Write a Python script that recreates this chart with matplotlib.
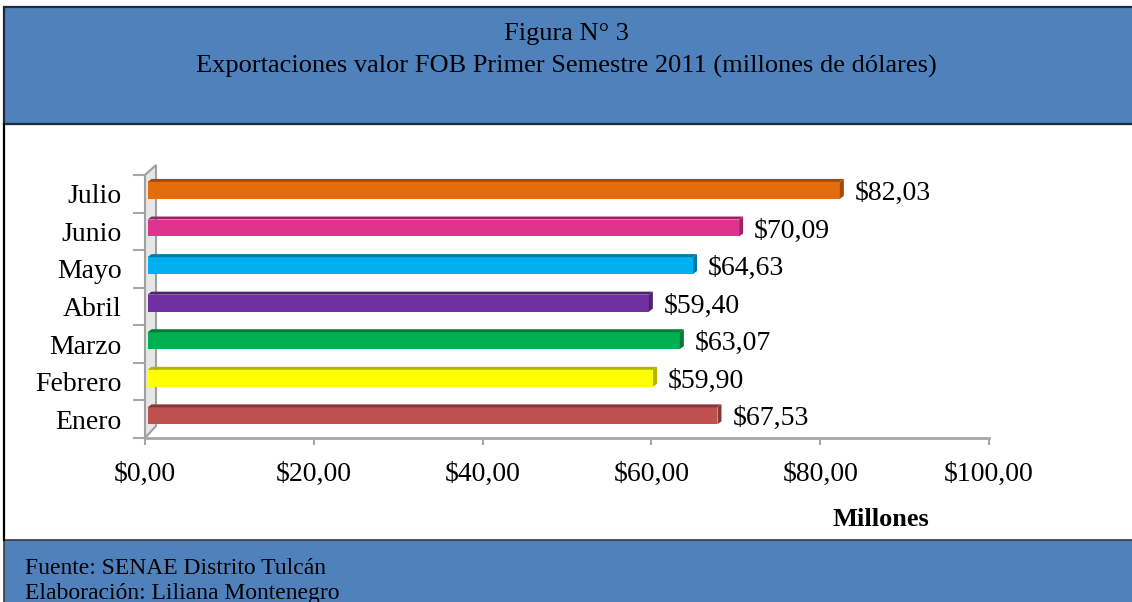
import numpy as np
import matplotlib
matplotlib.use("Agg")
import matplotlib.pyplot as plt
from matplotlib.patches import Rectangle, Polygon
from matplotlib.ticker import FuncFormatter, MultipleLocator
from matplotlib.colors import to_rgb

# ---------------------------------------------------------------------------
# Data
# ---------------------------------------------------------------------------
months = ["Enero", "Febrero", "Marzo", "Abril", "Mayo", "Junio", "Julio"]
exports = [67.53, 59.90, 63.07, 59.40, 64.63, 70.09, 82.03]
bar_colors = ["#C0504D", "#FFFF00", "#00B050", "#7030A0", "#00B0F0", "#E0338F", "#E46C0A"]

fig_title = "Figura N° 3"
fig_subtitle = "Exportaciones valor FOB Primer Semestre 2011 (millones de dólares)"
x_label = "Millones"
footer_lines = ["Fuente: SENAE Distrito Tulcán", "Elaboración: Liliana Montenegro"]

# ---------------------------------------------------------------------------
# Figure layout (pixel based helpers)
# ---------------------------------------------------------------------------
W, H = 1132, 602
plt.rcParams["font.family"] = ["Liberation Serif", "DejaVu Serif"]

fig = plt.figure(figsize=(W / 100, H / 100), dpi=100)
fig.patch.set_facecolor("white")


def fx(px):
    return px / W


def fy(py):
    return 1 - py / H


BANNER = "#4F81BD"
BANNER_EDGE = "#1B2A3D"

# top banner
fig.patches.append(Rectangle((fx(4), fy(124)), fx(1140) - fx(4), fy(7) - fy(124),
                             transform=fig.transFigure, facecolor=BANNER,
                             edgecolor=BANNER_EDGE, lw=1.6, zorder=0))
# bottom banner
fig.patches.append(Rectangle((fx(4), fy(610)), fx(1140) - fx(4), fy(540) - fy(610),
                             transform=fig.transFigure, facecolor=BANNER,
                             edgecolor="#3A3A3A", lw=1.2, zorder=0))
# left border of the chart area
fig.lines.append(plt.Line2D([fx(4), fx(4)], [fy(124), fy(540)],
                            transform=fig.transFigure, color="black", lw=1.6))

fig.text(0.5, fy(34), fig_title, ha="center", va="center", fontsize=19)
fig.text(0.5, fy(66), fig_subtitle, ha="center", va="center", fontsize=19)
fig.text(fx(25), fy(569), footer_lines[0], ha="left", va="center", fontsize=17)
fig.text(fx(25), fy(593), footer_lines[1], ha="left", va="center", fontsize=17)

# ---------------------------------------------------------------------------
# Axes
# ---------------------------------------------------------------------------
ax_l, ax_r, ax_t, ax_b = 145, 989, 175, 438
ax = fig.add_axes([fx(ax_l), fy(ax_b), fx(ax_r) - fx(ax_l), fy(ax_t) - fy(ax_b)])
ax.set_facecolor("none")

n = len(months)
ax.set_xlim(0, 100)
ax.set_ylim(-0.5, n - 0.5)

xu = 100 / (ax_r - ax_l)            # data units per pixel (x)
yu = n / (ax_b - ax_t)               # data units per pixel (y)

for s in ["top", "right", "left"]:
    ax.spines[s].set_visible(False)
ax.spines["bottom"].set_color("#A6A6A6")
ax.spines["bottom"].set_linewidth(2)

ax.xaxis.set_major_locator(MultipleLocator(20))
ax.xaxis.set_major_formatter(FuncFormatter(lambda v, p: f"${v:.2f}".replace(".", ",")))
ax.tick_params(axis="x", length=5, width=1.5, color="#A6A6A6", labelsize=20, pad=12)

ypos = np.arange(n)
ax.set_yticks(ypos)
ax.set_yticklabels(months)
ax.tick_params(axis="y", length=0, labelsize=20, pad=17)
ax.set_yticks(np.arange(-0.5, n, 1.0), minor=True)
ax.tick_params(axis="y", which="minor", length=9, width=1.5, color="#A6A6A6")

ax.set_xlabel(x_label, fontsize=19, fontweight="bold")
ax.xaxis.set_label_coords((881 - ax_l) / (ax_r - ax_l), -(508 - ax_b) / (ax_b - ax_t))

# left 3D wall
wall_dx, wall_dy = 11 * xu, 10 * yu
wall = Polygon([(0, -0.5), (0, n - 0.5), (wall_dx, n - 0.5 + wall_dy),
                (wall_dx, -0.5 + wall_dy * 1.2)], closed=True,
               facecolor="#E6E6E6", edgecolor="#A0A0A0", lw=1.5, clip_on=False, zorder=1)
ax.add_patch(wall)

# bars with a simple 3D look
bar_h = 0.45
lift = 0.09
depth_x, depth_y = 4 * xu, 3 * yu
bars = ax.barh(ypos + lift, exports, height=bar_h, left=0.3, color=bar_colors,
               edgecolor="none", zorder=3)
for rect, col, val in zip(bars, bar_colors, exports):
    x0 = rect.get_x()
    x1 = x0 + rect.get_width()
    y0 = rect.get_y()
    y1 = y0 + rect.get_height()
    dark = tuple(c * 0.7 for c in to_rgb(col))
    ax.add_patch(Polygon([(x0, y1), (x1, y1), (x1 + depth_x, y1 + depth_y),
                          (x0 + depth_x, y1 + depth_y)], closed=True,
                         facecolor=dark, edgecolor="none", zorder=3))
    ax.add_patch(Polygon([(x1, y0), (x1, y1), (x1 + depth_x, y1 + depth_y),
                          (x1 + depth_x, y0 + depth_y)], closed=True,
                         facecolor=dark, edgecolor="none", zorder=3))
    ax.text(x1 + depth_x + 11 * xu, rect.get_y() + bar_h / 2 - 3 * yu,
            f"${val:.2f}".replace(".", ","), ha="left", va="center", fontsize=20)

fig.savefig("out.png", dpi=100)
